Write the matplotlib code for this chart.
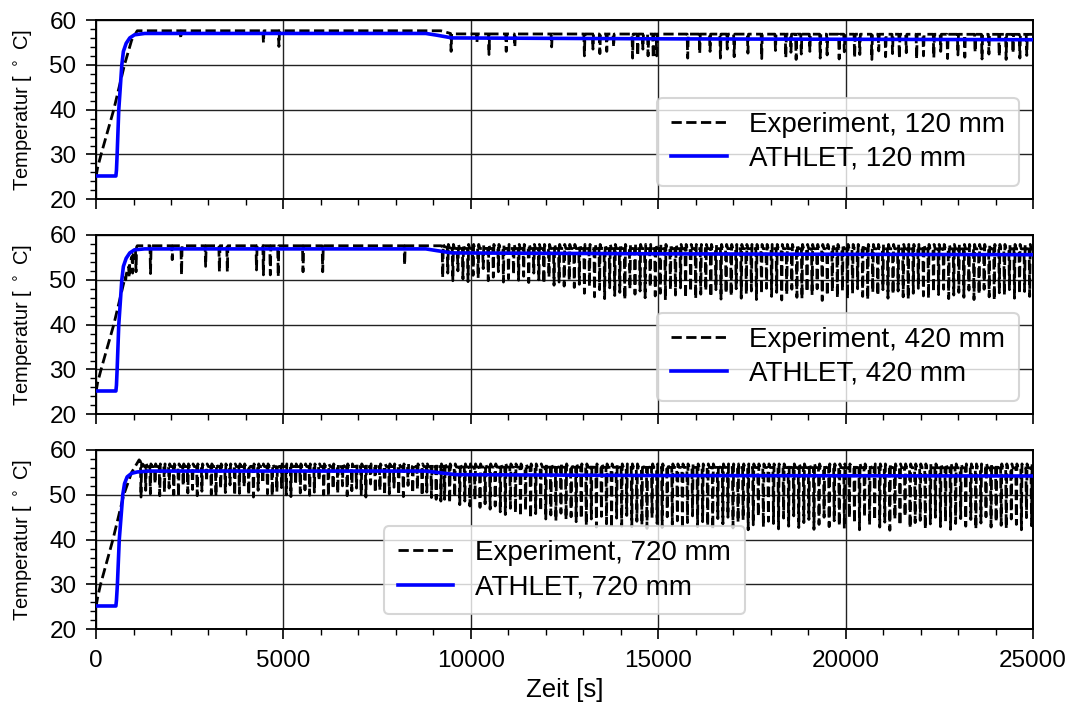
import numpy as np
import matplotlib
matplotlib.use("Agg")
import matplotlib.pyplot as plt
from matplotlib.ticker import MultipleLocator

plt.rcParams['font.family'] = ['Liberation Sans', 'DejaVu Sans']

# ---------------- data ----------------
x_ticks = [0, 5000, 10000, 15000, 20000, 25000]
y_ticks = [20, 30, 40, 50, 60]
positions_mm = [120, 420, 720]

# Panel 1 (120 mm) experiment baseline
p1_exp_t = [0, 40, 134, 473, 759, 950, 1100, 9200, 9500, 25000]
p1_exp_T = [25.0, 27.0, 30.0, 40.0, 50.0, 55.5, 57.6, 57.6, 56.9, 56.8]
p1_dip_t = [2262, 4467, 4880, 9474, 10163, 10485, 10944, 11174, 12156, 13030,
            13259, 13443, 13627, 13810, 14316, 14453, 14591, 14729, 14867, 14959,
            15786, 16107, 16383, 16659, 16842, 17026, 17393, 17761, 18128, 18404,
            18541, 18679, 18817, 19046, 19322, 19506, 19827, 19965, 20240, 20378,
            20700, 20883, 21067, 21251, 21434, 21618, 21894, 22078, 22353, 22537,
            22720, 22996, 23180, 23455, 23639, 23823, 24098, 24282, 24466, 24649,
            24833]
p1_dip_T = [55.8, 54.9, 54.1, 53.0, 55.0, 52.3, 53.0, 54.0, 54.0, 52.0,
            53.5, 52.5, 53.0, 54.0, 51.5, 52.0, 53.5, 52.0, 51.5, 52.0,
            51.5, 52.5, 53.0, 51.5, 53.5, 51.8, 52.6, 51.4, 53.2, 51.6,
            52.8, 51.2, 52.4, 53.0, 51.5, 52.2, 51.3, 52.9, 51.6, 52.3,
            51.2, 53.1, 51.8, 52.5, 51.4, 52.7, 51.3, 52.0, 51.6, 53.0,
            51.4, 52.2, 51.7, 52.8, 51.3, 52.4, 51.9, 51.2, 52.6, 51.5,
            52.1]
p1_ath_t = [0, 530, 545, 563, 607, 688, 730, 804, 900, 1027, 1300, 8800, 9100, 9500, 15000, 25000]
p1_ath_T = [25.2, 25.2, 26.5, 30.0, 40.0, 50.0, 53.0, 54.8, 56.0, 56.7, 57.0, 57.0, 56.6, 56.0, 55.8, 55.6]

# Panel 2 (420 mm)
p2_exp_t = [0, 40, 134, 473, 759, 950, 1100, 9200, 9500, 25000]
p2_exp_T = [25.0, 27.0, 30.0, 40.0, 50.0, 55.0, 57.6, 57.6, 57.0, 56.9]
p2_dip_t = [792, 884, 976, 1067, 1454, 2033, 2281, 2924, 3292, 3503,
            4282, 4466, 4650, 4861, 5523, 6048, 8234]
p2_dip_T = [50.0, 50.5, 51.5, 51.8, 51.4, 54.5, 51.1, 53.0, 51.8, 51.8,
            52.2, 51.1, 51.1, 50.7, 51.8, 51.8, 53.3]
p2_cyc_start = 9250
p2_cyc_step = 135
p2_cyc_peak = 57.9
p2_cyc_T = [50.5, 51.5, 49.8, 52.0, 50.2, 49.6, 51.0, 50.4, 52.5, 49.8,
            50.6, 51.8, 49.5, 50.2, 51.2, 49.9, 50.8, 49.4, 51.5, 50.0,
            49.2, 50.6, 48.8, 49.5, 48.6, 49.9, 48.3, 49.0,
            47.0, 48.5, 46.2, 47.8, 45.8, 48.2, 46.5, 47.2, 45.6, 48.0,
            46.8, 47.5, 46.0, 48.4, 46.4, 47.0, 45.5, 47.8, 46.6, 48.2,
            46.0, 47.4, 45.8, 46.8, 47.6,
            46.2, 47.8, 45.7, 47.0, 46.4, 48.0, 45.9, 46.8, 47.5, 45.6,
            46.9, 48.1, 46.3, 47.2, 45.5, 46.7, 47.9, 46.1, 45.8, 47.3,
            46.6, 48.0, 45.4, 46.5, 47.4,
            46.0, 47.6, 45.8, 46.9, 48.0, 46.3, 45.6, 47.2, 46.5, 47.8,
            45.9, 46.8, 47.5, 46.2, 45.7, 47.0, 48.1, 46.4, 45.9, 47.3,
            46.7, 47.9, 45.8, 46.6, 47.2,
            46.1, 47.7, 45.6, 46.8, 47.9, 46.2, 45.5, 47.1, 46.6, 47.8,
            45.9, 46.9, 47.4, 46.3]
p2_ath_t = [0, 530, 545, 563, 607, 688, 730, 804, 900, 1027, 1300, 8800, 9100, 9500, 15000, 25000]
p2_ath_T = [25.2, 25.2, 26.5, 30.0, 40.0, 50.0, 53.0, 54.8, 56.0, 56.7, 56.9, 56.9, 56.5, 56.0, 55.8, 55.6]

# Panel 3 (720 mm)
p3_exp_t = [0, 40, 120, 450, 740, 950, 1150, 1300, 9200, 9500, 25000]
p3_exp_T = [25.0, 27.0, 30.0, 40.0, 50.0, 55.0, 57.8, 56.3, 56.3, 56.2, 56.0]
p3_cyc1_start = 1200
p3_cyc1_step = 125
p3_cyc1_peak = 56.9
p3_cyc1_T = [49.5, 51.0, 50.2, 52.5, 49.8, 50.6, 51.5, 50.0, 49.6, 52.0,
             50.4, 51.2, 49.8, 50.8, 53.0, 50.1, 49.7, 51.4, 50.5, 52.2,
             49.9, 50.3, 51.8, 50.0, 49.5, 51.0, 52.6, 50.2, 49.8, 50.7,
             51.6, 50.0, 49.6, 52.3, 50.4, 51.1, 49.9, 50.6, 53.2, 50.0,
             49.7, 51.3, 50.3, 52.0, 49.8, 50.9, 51.5, 50.1, 49.5, 52.4,
             50.5, 51.0, 49.9, 50.2, 51.7, 50.0, 49.6, 52.1, 50.4, 51.2,
             49.8, 50.6, 49.4, 49.0, 48.6]
p3_cyc2_start = 9300
p3_cyc2_step = 135
p3_cyc2_peak = 56.9
p3_cyc2_T = [49.0, 48.2, 49.5, 47.8, 48.6, 47.5, 48.9, 47.2, 48.0,
             46.8, 47.5, 46.2, 45.6, 47.0, 46.0, 45.2, 46.5, 44.8, 45.8,
             46.4, 44.6, 45.5, 44.2, 45.9, 44.5, 45.1, 44.0, 44.7,
             43.2, 44.6, 42.8, 45.2, 43.5, 42.6, 44.8, 43.0, 45.4, 42.9,
             44.1, 43.3, 42.5, 44.9, 43.6, 42.7, 45.1, 43.4, 44.2, 42.4,
             43.8, 45.3, 42.9, 44.0, 43.1, 42.3, 44.7, 43.5, 45.0, 42.6,
             43.9, 44.4, 42.2, 43.3, 45.2, 42.8, 44.1, 43.6, 42.4, 44.8,
             43.0, 45.3, 42.7, 43.8, 44.5, 42.3, 43.4, 45.0, 42.9, 44.2,
             43.1, 42.5, 44.9, 43.7, 42.2, 45.1, 43.3, 44.4, 42.8, 43.9,
             42.1, 44.6, 43.2, 45.2, 42.6, 43.8, 44.3, 42.4, 43.5, 45.0,
             42.9, 44.1, 42.3, 43.6, 44.7,
             43.0, 44.5, 42.4, 43.7, 45.1, 42.8, 44.0, 43.2, 42.5, 44.6,
             43.4, 42.2, 44.9, 43.1]
p3_ath_t = [0, 530, 545, 570, 620, 713, 760, 830, 950, 1100, 1400, 8800, 9100, 9600, 15000, 25000]
p3_ath_T = [25.2, 25.2, 26.5, 30.0, 40.0, 50.0, 52.5, 54.0, 54.8, 55.1, 55.3, 55.3, 55.0, 54.5, 54.3, 54.2]


def build_exp(knot_t, knot_T, dips=(), cycles=(), w=15):
    """dips: (times, temps); cycles: list of (start, step, temps, peak)."""
    pts = list(zip(knot_t, knot_T))
    if dips:
        for td, Td in zip(*dips):
            for tt in (td - w, td + w):
                pts.append((tt, float(np.interp(tt, knot_t, knot_T))))
            pts.append((td, Td))
    for start, step, temps, peak in cycles:
        times = start + step * np.arange(len(temps))
        for td, Td in zip(times, temps):
            pts.append((td - w, float(np.interp(td - w, knot_t, knot_T))))
            pts.append((td, Td))
            pts.append((td + w, peak))
            pts.append((td + 3 * w, float(np.interp(td + 3 * w, knot_t, knot_T))))
    pts.sort(key=lambda p: p[0])
    arr = np.array(pts)
    return arr[:, 0], arr[:, 1]


panels = [
    dict(exp=build_exp(p1_exp_t, p1_exp_T, dips=(p1_dip_t, p1_dip_T)),
         ath=(p1_ath_t, p1_ath_T)),
    dict(exp=build_exp(p2_exp_t, p2_exp_T, dips=(p2_dip_t, p2_dip_T),
                       cycles=[(p2_cyc_start, p2_cyc_step, p2_cyc_T, p2_cyc_peak)]),
         ath=(p2_ath_t, p2_ath_T)),
    dict(exp=build_exp(p3_exp_t, p3_exp_T,
                       cycles=[(p3_cyc1_start, p3_cyc1_step, p3_cyc1_T, p3_cyc1_peak),
                               (p3_cyc2_start, p3_cyc2_step, p3_cyc2_T, p3_cyc2_peak)]),
         ath=(p3_ath_t, p3_ath_T)),
]

# ---------------- figure ----------------
fig = plt.figure(figsize=(10.79, 7.11), dpi=100)
left, width = 0.0890, 0.9574 - 0.0890
boxes = [(0.71969, 0.97187), (0.41730, 0.66948), (0.11491, 0.36709)]
legend_loc = [('lower right', (0.985, 0.075)),
              ('lower right', (0.985, 0.075)),
              ('lower left', (0.307, 0.083))]

for i, (pan, (b, t)) in enumerate(zip(panels, boxes)):
    ax = fig.add_axes([left, b, width, t - b])
    et, eT = pan['exp']
    ax.plot(et, eT, color='k', ls='--', lw=2,
            label=f'Experiment, {positions_mm[i]} mm', zorder=3)
    ax.plot(pan['ath'][0], pan['ath'][1], color='#0000ff', lw=2.6,
            label=f'ATHLET, {positions_mm[i]} mm', zorder=4)
    ax.set_xlim(0, 25000)
    ax.set_ylim(20, 60)
    ax.set_xticks(x_ticks)
    ax.set_yticks(y_ticks)
    ax.xaxis.set_minor_locator(MultipleLocator(1000))
    ax.yaxis.set_minor_locator(MultipleLocator(2))
    ax.tick_params(which='major', direction='out', length=7, width=1.2,
                   labelsize=17.5, color='k')
    ax.tick_params(axis='y', which='major', pad=7)
    ax.tick_params(axis='x', which='major', pad=8)
    ax.tick_params(which='minor', direction='out', length=4, width=1.0)
    ax.grid(True, which='major', color='#222222', lw=1.0, zorder=1)
    for sp in ax.spines.values():
        sp.set_linewidth(1.4)
    ax.set_ylabel('Temperatur [ $^\\circ$ C]', fontsize=14.5, labelpad=11)
    if i < 2:
        ax.tick_params(labelbottom=False)
    else:
        ax.set_xlabel('Zeit [s]', fontsize=18.5, labelpad=4)
    loc, anchor = legend_loc[i]
    leg = ax.legend(loc=loc, bbox_to_anchor=anchor, borderaxespad=0,
                    fontsize=20, framealpha=0.8, edgecolor='#cccccc',
                    fancybox=True, labelspacing=0.3, handlelength=2.0,
                    handletextpad=0.8, borderpad=0.5)
    leg.get_frame().set_linewidth(1.5)
    leg.set_zorder(5)

fig.savefig('out.png', dpi=100)
